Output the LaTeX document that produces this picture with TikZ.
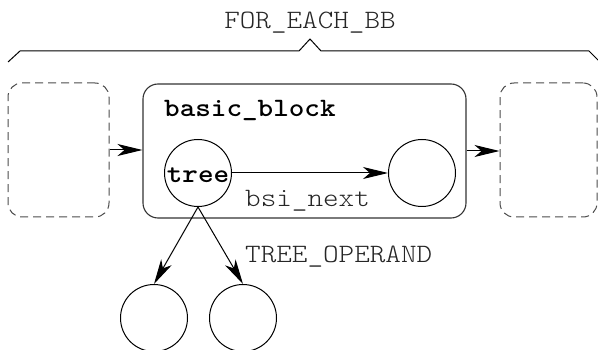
\documentclass[tikz,border=0pt]{standalone}
\usepackage{fontspec}
\setmonofont[FakeStretch=1.12]{Latin Modern Mono Light}
\usetikzlibrary{arrows.meta}

\tikzset{
  lbl/.style={font=\fontsize{26.5}{30}\selectfont\ttfamily, text=black!85, inner sep=0pt},
  boldlbl/.style={font=\fontsize{26.5}{30}\selectfont\ttfamily\bfseries, text=black, inner sep=0pt},
  circ/.style={draw=black, circle, line width=1pt, minimum size=67pt, inner sep=0pt},
  mainbox/.style={draw=black!80, line width=1.1pt, rounded corners=15pt, inner sep=0pt},
  ghostbox/.style={draw=black!70, line width=1pt, dash pattern=on 8pt off 5pt, rounded corners=14pt, inner sep=0pt},
  link/.style={line width=1pt, -{Stealth[length=25pt,width=12pt,inset=7pt]}},
}

\begin{document}
\begin{tikzpicture}[x=1pt, y=-1pt]
  \useasboundingbox (0,0) rectangle (598,350);

  % brace spanning all basic blocks
  \coordinate (brL) at (8,62);
  \coordinate (brR) at (600,62);
  \draw[line width=1pt] (brL) -- (20,51) -- (299,51) -- (310,39) -- (321,51) -- (589,51) -- (brR);
  \node[lbl, anchor=base] (foreach) at (310,29) {FOR\_EACH\_BB};

  % neighbouring blocks and the current basic block
  \node[ghostbox, minimum width=101pt, minimum height=134pt] (prevbb) at (58.5,150) {};
  \node[ghostbox, minimum width=97pt, minimum height=134pt] (nextbb) at (548.5,150) {};
  \node[mainbox, minimum width=323pt, minimum height=134pt] (bb) at (304.5,151) {};
  \node[boldlbl, anchor=base west] (bbname) at (164,117) {basic\_block};

  % statement trees
  \node[circ] (tree) at (198,173) {};
  \node[boldlbl, anchor=base] (treename) at (198,183) {tree};
  \node[circ] (nexttree) at (422,173) {};
  \node[circ] (opl) at (154,318) {};
  \node[circ] (opr) at (243,318) {};

  % connectors
  \draw[link] (prevbb.east) -- (prevbb.east -| bb.west);
  \draw[link] (bb.east) -- (bb.east -| nextbb.west);
  \draw[link] (tree.east) -- (nexttree.west);
  \draw[link] (tree.south) -- (opl.north);
  \draw[link] (tree.south) -- (opr.north);

  \node[lbl, anchor=base west] (bsinext) at (245,207) {bsi\_next};
  \node[lbl, anchor=base west] (operand) at (245,263) {TREE\_OPERAND};
\end{tikzpicture}
\end{document}
